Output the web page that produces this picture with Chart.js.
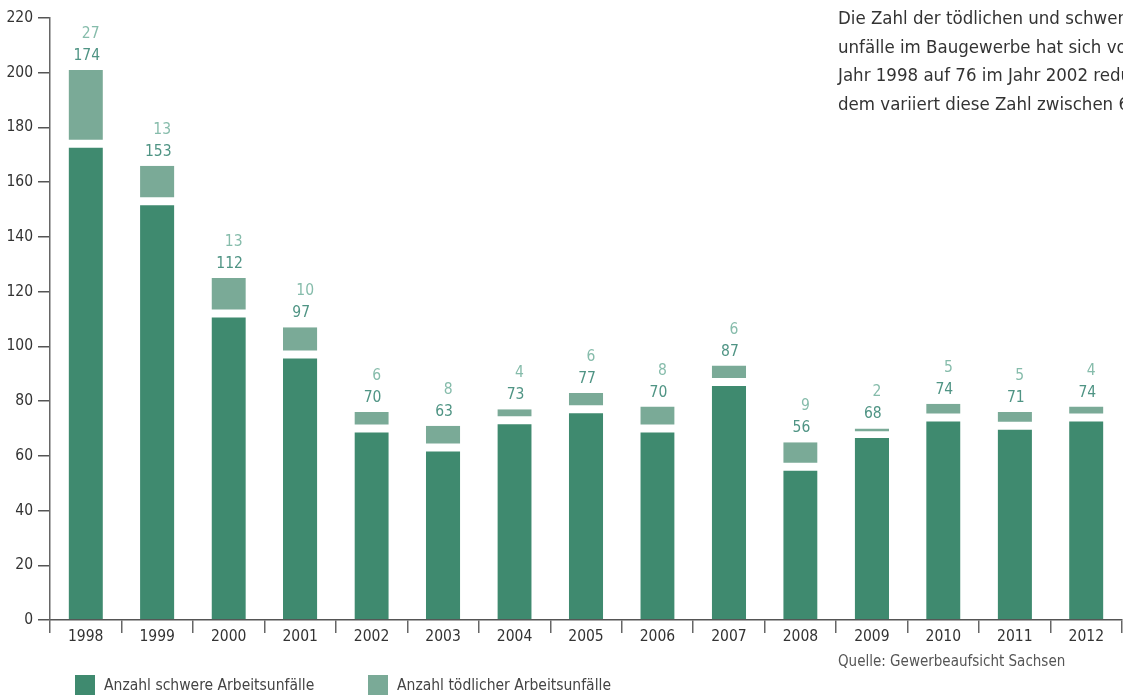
<!DOCTYPE html>
<html lang="de">
<head>
<meta charset="utf-8">
<script src="https://cdn.jsdelivr.net/npm/chart.js@4"></script>
<style>
  html, body { margin: 0; padding: 0; background: #fff; overflow: hidden; }
  body { width: 1123px; height: 696px; position: relative;
         font-family: 'Liberation Sans Narrow', 'DejaVu Sans Condensed', sans-serif; color: #3a3a3a; }
  #wrap { position: absolute; left: 0; top: 0; width: 1123px; height: 696px; }
  .txt { position: absolute; left: 838px; top: 4px; font-size: 18.5px; line-height: 28.6px; white-space: nowrap; color: #333; }
  .quelle { position: absolute; left: 838px; top: 652px; font-size: 15px; color: #555; white-space: nowrap; }
  .leg { position: absolute; top: 675px; height: 20px; font-size: 15.5px; line-height: 20px; white-space: nowrap; color: #444; }
  .leg span { display: inline-block; width: 20px; height: 20px; vertical-align: top; margin-right: 9px; }
</style>
</head>
<body>
<div id="wrap"><canvas id="myChart"></canvas></div>
<div class="txt">Die Zahl der tödlichen und schweren Arbeits-<br>unfälle im Baugewerbe hat sich vom<br>Jahr 1998 auf 76 im Jahr 2002 reduziert. Seit-<br>dem variiert diese Zahl zwischen 60 und 90.</div>
<div class="quelle">Quelle: Gewerbeaufsicht Sachsen</div>
<div class="leg" style="left:75px"><span style="background:#3f8a6f"></span>Anzahl schwere Arbeitsunfälle</div>
<div class="leg" style="left:368px"><span style="background:#7aaa97"></span>Anzahl tödlicher Arbeitsunfälle</div>
<script>
const jahre = ['1998', '1999', '2000', '2001', '2002', '2003', '2004', '2005', '2006', '2007', '2008', '2009', '2010', '2011', '2012'];
const schwere = [174, 153, 112, 97, 70, 63, 73, 77, 70, 87, 56, 68, 74, 71, 74];
const toedlich = [27, 13, 13, 10, 6, 8, 4, 6, 8, 6, 9, 2, 5, 5, 4];
const yTicks = [0, 20, 40, 60, 80, 100, 120, 140, 160, 180, 200, 220];

const FONT = "'Liberation Sans Narrow', 'DejaVu Sans Condensed', sans-serif";

// Werte über den Balken
const labelPlugin = {
  id: 'werte',
  afterDatasetsDraw(chart) {
    const ctx = chart.ctx;
    const meta = chart.getDatasetMeta(1);
    ctx.save();
    ctx.font = '15.5px ' + FONT;
    ctx.textAlign = 'center';
    ctx.textBaseline = 'middle';
    meta.data.forEach((bar, i) => {
      ctx.fillStyle = '#4f9484';
      ctx.fillText(String(schwere[i]), bar.x + 1, bar.y - 14);
      ctx.fillStyle = '#86bcab';
      ctx.fillText(String(toedlich[i]), bar.x + 5, bar.y - 36);
    });
    ctx.restore();
  }
};

const data = {
  labels: jahre,
  datasets: [{
    label: 'Anzahl schwere Arbeitsunfälle',
    data: schwere,
    backgroundColor: '#3f8a6f',
    borderColor: '#fff',
    borderWidth: { top: 4, left: 0, right: 0, bottom: 0 },
    borderSkipped: false,
    categoryPercentage: 1,
    barPercentage: 0.48
  }, {
    label: 'Anzahl tödlicher Arbeitsunfälle',
    data: toedlich,
    backgroundColor: '#7aaa97',
    borderColor: '#fff',
    borderWidth: { top: 0, left: 0, right: 0, bottom: 4 },
    borderSkipped: false,
    categoryPercentage: 1,
    barPercentage: 0.48
  }]
};

const config = {
  type: 'bar',
  data: data,
  options: {
    responsive: true,
    maintainAspectRatio: false,
    animation: false,
    layout: { padding: { top: 18, right: 1, left: 0, bottom: 46 } },
    plugins: { legend: { display: false }, tooltip: { enabled: false } },
    scales: {
      x: {
        stacked: true,
        offset: true,
        grid: { offset: true, drawOnChartArea: false, drawTicks: true, tickLength: 13, color: '#666', lineWidth: 1.5 },
        border: { display: true, color: '#555', width: 1.5 },
        ticks: { color: '#333', font: { family: FONT, size: 15.5 }, padding: -5, maxRotation: 0 },
        afterFit(scale) { scale.height = 30; }
      },
      y: {
        stacked: true,
        min: 0,
        max: 220,
        afterBuildTicks(scale) { scale.ticks = yTicks.map(v => ({ value: v })); },
        grid: { drawOnChartArea: false, drawTicks: true, tickLength: 12, color: '#555', lineWidth: 1.5 },
        border: { display: true, color: '#666', width: 1.5 },
        ticks: { color: '#333', font: { family: FONT, size: 15.5 }, padding: 5 },
        afterFit(scale) { scale.width = 50; }
      }
    }
  },
  plugins: [labelPlugin]
};

var myChart = new Chart(document.getElementById('myChart'), config);
</script>
</body>
</html>
